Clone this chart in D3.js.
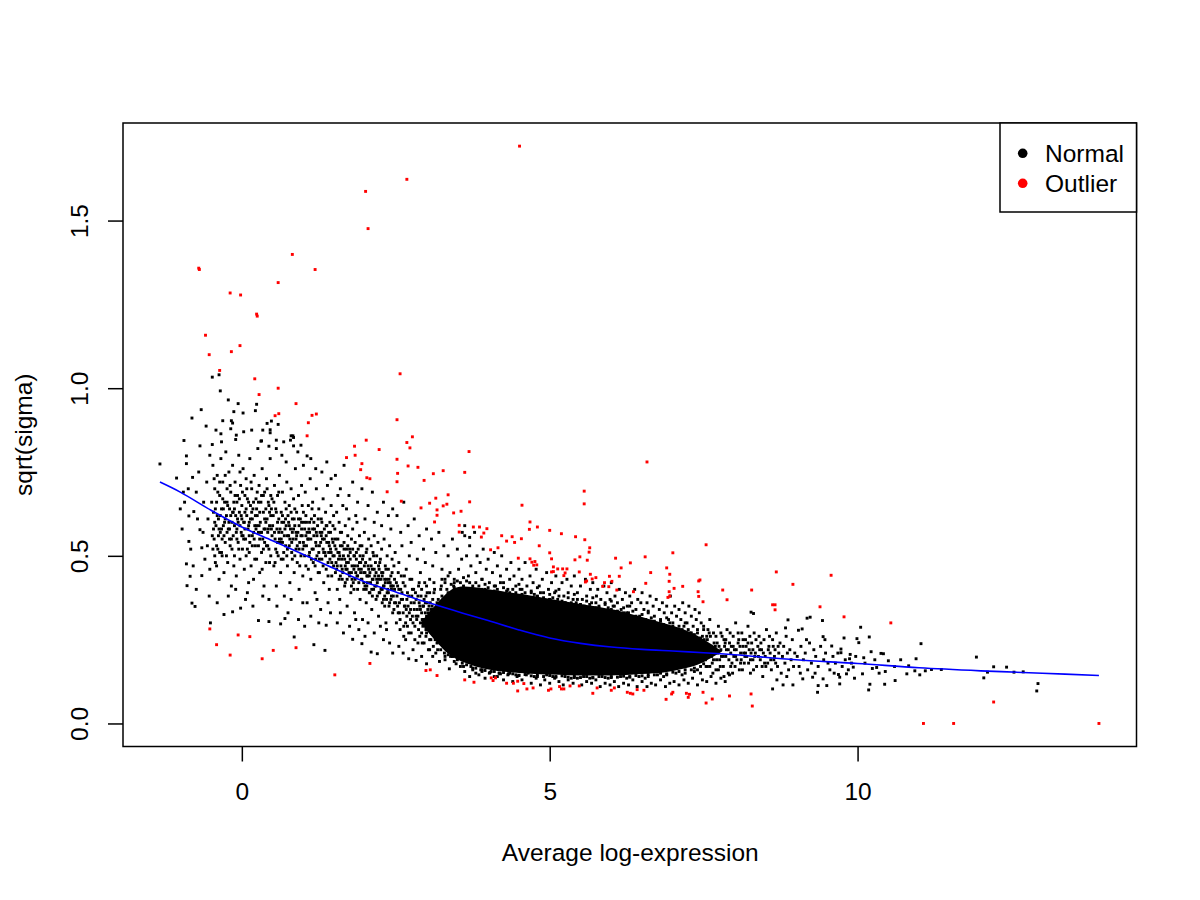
<!DOCTYPE html>
<html><head><meta charset="utf-8">
<script src="https://cdn.jsdelivr.net/npm/d3@7/dist/d3.min.js"></script>
<style>body{margin:0;background:#fff}svg{display:block}</style>
</head><body><svg id="chart" width="1200" height="900"></svg>
<script>
// ---------- data ----------
const xTicks = [0, 5, 10];
const yTicks = [0, 0.5, 1, 1.5];
const xTitle = "Average log-expression";
const yTitle = "sqrt(sigma)";
const legendLabels = ["Normal", "Outlier"];
const legendColors = ["#000000", "#FF0000"];

// overplotted (solid black) core of the cloud: x, lower edge, upper edge
const denseX  = [2.9, 3.15, 3.35, 3.5, 3.75, 4.0, 4.3, 4.7, 5.0, 5.3, 5.65, 6.0, 6.3, 6.7, 7.0, 7.3, 7.5, 7.8];
const denseLo = [.30, .245, .205, .19, .172, .16, .153, .148, .146, .144, .143, .143, .145, .149, .156, .168, .182, .215];
const denseHi = [.30, .355, .395, .41, .408, .40, .392, .382, .372, .362, .352, .342, .327, .307, .292, .272, .252, .215];

// fitted trend (blue line)
const trendX = [-1.33, -1, -0.5, 0, 0.5, 1, 1.5, 2, 2.5, 3, 3.59, 4, 4.5, 5, 5.5, 6, 6.5, 7, 7.5, 8, 9, 10, 11, 12, 13, 13.92];
const trendY = [.72, .69, .636, .586, .545, .504, .462, .422, .392, .362, .329, .307, .279, .255, .239, .228, .221, .216, .211, .205, .19, .179, .166, .157, .15, .143];

const normalPoints = [
[-1.33,.774],[-1.06,.732],[-0.94,.844],[-0.9,.798],[-0.9,.775],[-0.8,.734],[-0.81,.911],[-0.66,.936],[-0.68,.828],[-0.58,.887],[-0.9,.476],[-0.84,.439],[-0.89,.411],[-0.81,.359],[-0.76,.349],[-0.86,.619],[-0.86,.543],[-0.78,.632],[-0.68,.578],[-0.65,.524],[-0.65,.441],[-0.51,.300],[-0.97,.58],[-0.93,.66],[-0.87,.70],[-0.83,.52],[-0.79,.47],[-0.74,.69],[-0.72,.61],[-0.7,.75],[-0.62,.66],[-0.6,.49],[-0.57,.72],[-0.55,.61],[-0.53,.38],[-0.52,.80],[-0.74,.40],[-0.63,.57],[-0.56,.53],[-1.0,.64],[-0.95,.69],[-0.52,.46],
[-0.48,1.033],[-0.37,1.04],[-0.35,.992],[-0.22,.965],[-0.06,.954],[0.24,.952],[-0.13,.93],[0.02,.926],[0.22,.933],[-0.31,.903],[-0.17,.903],[-0.15,.896],[-0.42,.875],[-0.34,.864],[-0.18,.879],[0.03,.87],[0.16,.875],[0.34,.875],[0.41,.895],[0.48,.902],[0.46,.876],[0.46,.867],[-0.1,.847],[-0.09,.86],[0.32,.843],[-0.48,.832],[-0.33,.84],[0.31,.842],[0.44,.827],
[-0.47,.77],[-0.46,.63],[-0.45,.55],[-0.44,.70],[-0.43,.48],[-0.42,.59],[-0.41,.66],[-0.4,.74],[-0.39,.52],[-0.38,.61],[-0.37,.43],[-0.36,.68],[-0.35,.57],[-0.34,.79],[-0.33,.64],[-0.32,.50],[-0.31,.72],[-0.30,.59],[-0.29,.45],[-0.28,.66],[-0.27,.54],[-0.26,.81],[-0.25,.62],[-0.24,.70],[-0.23,.48],[-0.22,.58],[-0.21,.75],[-0.2,.64],[-0.19,.53],[-0.18,.69],[-0.17,.41],[-0.16,.60],[-0.15,.77],[-0.14,.56],[-0.13,.66],[-0.12,.50],[-0.11,.72],[-0.1,.62],[-0.09,.44],[-0.08,.58],[-0.07,.68],[-0.06,.54],[-0.05,.80],[-0.04,.63],[-0.03,.49],[-0.02,.71],[-0.01,.57],[0.0,.65],[0.01,.52],[0.02,.76],[0.03,.60],[0.04,.46],[0.05,.68],[0.06,.55],[0.07,.73],[0.08,.62],[0.09,.39],[0.1,.58],[0.11,.66],[0.12,.51],[0.13,.79],[0.14,.61],[0.15,.47],[0.16,.70],[0.17,.56],[0.18,.64],[0.19,.43],[0.2,.74],[0.21,.59],[0.22,.53],[0.23,.67],[0.24,.49],[0.25,.62],[0.26,.82],[0.27,.57],[0.28,.71],[0.29,.45],[0.3,.60],[0.31,.66],[0.32,.51],[0.33,.76],[0.34,.55],[0.35,.63],[0.36,.41],[0.37,.69],[0.38,.58],[0.39,.48],[0.4,.73],[0.41,.61],[0.42,.53],[0.43,.66],[0.44,.37],[0.45,.59],[0.46,.79],[0.47,.50],[0.48,.64],[0.49,.56],
[-0.44,.60],[-0.38,.56],[-0.33,.58],[-0.27,.61],[-0.2,.55],[-0.14,.63],[-0.08,.66],[-0.03,.59],[0.02,.56],[0.07,.64],[0.12,.60],[0.17,.53],[0.22,.62],[0.27,.66],[0.32,.57],[0.37,.61],[0.42,.57],[0.47,.68],[-0.36,.51],[-0.24,.57],[-0.12,.59],[0.0,.61],[0.09,.52],[0.19,.57],[0.29,.55],[0.39,.64],[0.44,.52],[-0.46,.58],[-0.41,.53],[-0.3,.64],[-0.18,.62],[-0.06,.60],[0.05,.58],[0.14,.65],[0.24,.59],[0.35,.52],[0.45,.63],
[-0.49,.66],[-0.47,.52],[-0.45,.73],[-0.43,.64],[-0.41,.47],[-0.39,.69],[-0.37,.58],[-0.35,.62],[-0.33,.51],[-0.31,.67],[-0.29,.56],[-0.27,.74],[-0.25,.50],[-0.23,.65],[-0.21,.60],[-0.19,.71],[-0.17,.55],[-0.15,.63],[-0.13,.47],[-0.11,.68],[-0.09,.57],[-0.07,.61],[-0.05,.52],[-0.03,.75],[-0.01,.62],[0.01,.69],[0.03,.55],[0.05,.63],[0.07,.50],[0.09,.67],[0.11,.59],[0.13,.54],[0.15,.72],[0.17,.61],[0.19,.66],[0.21,.49],[0.23,.58],[0.25,.69],[0.27,.53],[0.29,.63],[0.31,.57],[0.33,.46],[0.35,.68],[0.37,.54],[0.39,.60],[0.41,.70],[0.43,.58],[0.45,.48],[0.47,.62],[0.49,.67],
[-0.48,.56],[-0.44,.50],[-0.4,.62],[-0.36,.72],[-0.32,.55],[-0.28,.60],[-0.24,.66],[-0.2,.58],[-0.16,.52],[-0.12,.64],[-0.08,.55],[-0.04,.67],[0.0,.56],[0.04,.60],[0.08,.70],[0.12,.56],[0.16,.63],[0.2,.55],[0.24,.64],[0.28,.59],[0.32,.68],[0.36,.58],[0.4,.53],[0.44,.65],[0.48,.58],
[-0.29,.325],[-0.15,.333],[-0.02,.344],[0.27,.307],[0.44,.304],[-0.4,.36],[-0.22,.38],[0.06,.37],[0.18,.35],[0.34,.38],[-0.1,.40],[0.11,.42],
[0.56,.845],[0.83,.858],[0.84,.828],[1.06,.798],[0.59,.892],[0.8,.858],[0.84,.853],[0.79,.845],[0.56,.82],[0.65,.80],[0.72,.78],[0.91,.81],[1.0,.77],[1.12,.79],[1.2,.76],[1.3,.75],[1.38,.78],[1.45,.73],[0.68,.84],[0.96,.83],
[0.51,.62],[0.52,.47],[0.53,.71],[0.54,.55],[0.55,.64],[0.56,.41],[0.57,.58],[0.58,.68],[0.59,.50],[0.6,.61],[0.61,.74],[0.62,.54],[0.63,.45],[0.64,.63],[0.65,.57],[0.66,.69],[0.67,.49],[0.68,.60],[0.69,.38],[0.7,.66],[0.71,.53],[0.72,.59],[0.73,.72],[0.74,.47],[0.75,.62],[0.76,.56],[0.77,.65],[0.78,.42],[0.79,.58],[0.8,.70],[0.81,.51],[0.82,.61],[0.83,.55],[0.84,.67],[0.85,.45],[0.86,.59],[0.87,.76],[0.88,.52],[0.89,.63],[0.9,.48],[0.91,.57],[0.92,.68],[0.93,.40],[0.94,.54],[0.95,.61],[0.96,.50],[0.97,.71],[0.98,.56],[0.99,.44],[1.0,.63],[1.01,.53],[1.02,.58],[1.03,.69],[1.04,.47],[1.05,.60],[1.06,.36],[1.07,.55],[1.08,.65],[1.09,.50],[1.1,.57],[1.11,.73],[1.12,.43],[1.13,.61],[1.14,.52],[1.15,.66],[1.16,.48],[1.17,.56],[1.18,.62],[1.19,.39],[1.2,.54],[1.21,.70],[1.22,.50],[1.23,.59],[1.24,.45],[1.25,.64],[1.26,.53],[1.27,.57],[1.28,.34],[1.29,.61],[1.3,.49],[1.31,.55],[1.32,.67],[1.33,.42],[1.34,.58],[1.35,.51],[1.36,.63],[1.37,.46],[1.38,.54],[1.39,.71],[1.4,.48],[1.41,.57],[1.42,.40],[1.43,.60],[1.44,.52],[1.45,.65],[1.46,.44],[1.47,.55],[1.48,.50],[1.49,.62],
[0.55,.52],[0.6,.57],[0.66,.54],[0.71,.61],[0.77,.53],[0.82,.57],[0.88,.55],[0.93,.59],[0.99,.52],[1.04,.56],[1.1,.51],[1.15,.58],[1.21,.53],[1.26,.49],[1.32,.52],[1.37,.56],[1.43,.49],[1.48,.54],[0.58,.60],[0.64,.49],[0.74,.56],[0.86,.50],[0.97,.60],[1.08,.55],[1.19,.47],[1.3,.57],[1.41,.51],
[0.5,.59],[0.52,.66],[0.54,.48],[0.56,.63],[0.58,.54],[0.6,.69],[0.62,.58],[0.64,.55],[0.66,.62],[0.68,.51],[0.7,.58],[0.72,.64],[0.74,.52],[0.76,.60],[0.78,.55],[0.8,.63],[0.82,.49],[0.84,.58],[0.86,.64],[0.88,.57],[0.9,.53],[0.92,.61],[0.94,.47],[0.96,.56],[0.98,.65],[1.0,.54],[1.02,.50],[1.04,.62],[1.06,.57],[1.08,.46],[1.1,.60],[1.12,.55],[1.14,.64],[1.16,.52],[1.18,.58],[1.2,.49],[1.22,.56],[1.24,.61],[1.26,.45],[1.28,.54],[1.3,.60],[1.32,.47],[1.34,.55],[1.36,.50],[1.38,.59],[1.4,.44],[1.42,.53],[1.44,.57],[1.46,.48],[1.48,.59],
[0.53,.57],[0.57,.51],[0.61,.55],[0.65,.60],[0.69,.56],[0.73,.50],[0.77,.59],[0.81,.54],[0.85,.61],[0.89,.56],[0.93,.52],[0.97,.58],[1.01,.60],[1.05,.53],[1.09,.58],[1.13,.49],[1.17,.60],[1.21,.57],[1.25,.51],[1.29,.56],[1.33,.51],[1.37,.59],[1.41,.54],[1.45,.51],[1.49,.47],
[0.63,.297],[0.7,.313],[0.85,.258],[1.17,.235],[1.35,.218],[1.37,.293],[0.75,.33],[0.92,.31],[1.02,.29],[1.12,.32],[1.25,.30],[1.44,.33],[0.57,.35],[0.8,.37],[0.99,.36],[1.22,.37],[1.4,.36],
[1.52,.74],[1.6,.70],[1.66,.77],[1.74,.68],[1.8,.72],[1.88,.66],[1.95,.70],[2.05,.65],[2.12,.69],[2.2,.63],[2.3,.66],[2.38,.62],[2.45,.64],[1.56,.68],[1.7,.64],[1.85,.62],[2.0,.61],[2.15,.60],[2.27,.59],[2.42,.58],
[1.51,.58],[1.52,.45],[1.53,.52],[1.54,.63],[1.55,.40],[1.56,.55],[1.57,.49],[1.58,.60],[1.59,.37],[1.6,.53],[1.61,.47],[1.62,.57],[1.63,.43],[1.64,.65],[1.65,.50],[1.66,.54],[1.67,.41],[1.68,.59],[1.69,.46],[1.7,.52],[1.71,.35],[1.72,.56],[1.73,.48],[1.74,.61],[1.75,.44],[1.76,.51],[1.77,.39],[1.78,.55],[1.79,.47],[1.8,.58],[1.81,.42],[1.82,.50],[1.83,.33],[1.84,.54],[1.85,.45],[1.86,.49],[1.87,.60],[1.88,.40],[1.89,.52],[1.9,.46],[1.91,.56],[1.92,.37],[1.93,.48],[1.94,.43],[1.95,.53],[1.96,.31],[1.97,.50],[1.98,.45],[1.99,.57],[2.0,.41],[2.01,.48],[2.02,.36],[2.03,.52],[2.04,.44],[2.05,.47],[2.06,.55],[2.07,.39],[2.08,.49],[2.09,.42],[2.1,.53],[2.11,.34],[2.12,.46],[2.13,.51],[2.14,.40],[2.15,.56],[2.16,.44],[2.17,.48],[2.18,.37],[2.19,.50],[2.2,.42],[2.21,.54],[2.22,.32],[2.23,.46],[2.24,.39],[2.25,.49],[2.26,.43],[2.27,.52],[2.28,.36],[2.29,.45],[2.3,.41],[2.31,.55],[2.32,.38],[2.33,.47],[2.34,.30],[2.35,.43],[2.36,.50],[2.37,.40],[2.38,.46],[2.39,.35],[2.4,.53],[2.41,.42],[2.42,.44],[2.43,.38],[2.44,.49],[2.45,.33],[2.46,.41],[2.47,.47],[2.48,.36],[2.49,.51],
[1.53,.48],[1.58,.51],[1.63,.53],[1.68,.47],[1.73,.50],[1.78,.45],[1.83,.47],[1.88,.44],[1.93,.45],[1.98,.42],[2.03,.44],[2.08,.45],[2.13,.43],[2.18,.41],[2.23,.43],[2.28,.40],[2.33,.42],[2.38,.39],[2.43,.41],[2.48,.43],[1.6,.44],[1.71,.43],[1.82,.40],[1.92,.50],[2.02,.40],[2.12,.38],[2.22,.47],[2.32,.35],[2.42,.37],
[1.5,.50],[1.52,.55],[1.54,.46],[1.56,.51],[1.58,.43],[1.6,.57],[1.62,.49],[1.64,.45],[1.66,.52],[1.68,.42],[1.7,.48],[1.72,.53],[1.74,.45],[1.76,.49],[1.78,.41],[1.8,.52],[1.82,.46],[1.84,.43],[1.86,.51],[1.88,.47],[1.9,.42],[1.92,.53],[1.94,.46],[1.96,.49],[1.98,.40],[2.0,.45],[2.02,.51],[2.04,.42],[2.06,.46],[2.08,.39],[2.1,.47],[2.12,.43],[2.14,.50],[2.16,.41],[2.18,.45],[2.2,.38],[2.22,.44],[2.24,.48],[2.26,.40],[2.28,.44],[2.3,.37],[2.32,.43],[2.34,.46],[2.36,.39],[2.38,.42],[2.4,.36],[2.42,.41],[2.44,.45],[2.46,.38],[2.48,.40],
[1.51,.53],[1.55,.47],[1.59,.50],[1.63,.46],[1.67,.49],[1.71,.46],[1.75,.52],[1.79,.43],[1.83,.50],[1.87,.44],[1.91,.48],[1.95,.43],[1.99,.47],[2.03,.41],[2.07,.44],[2.11,.40],[2.15,.46],[2.19,.43],[2.23,.39],[2.27,.45],[2.31,.41],[2.35,.37],[2.39,.43],[2.43,.40],[2.47,.34],
[1.8,.251],[1.95,.238],[2.1,.213],[2.2,.208],[2.45,.21],[1.55,.30],[1.65,.27],[1.75,.29],[1.9,.28],[2.0,.26],[2.15,.27],[2.3,.25],[2.4,.24],[1.6,.33],[1.85,.31],[2.05,.30],[2.25,.29],[2.35,.28],
[2.52,.62],[2.58,.57],[2.63,.66],[2.7,.59],[2.75,.54],[2.8,.61],[2.88,.56],[2.95,.52],[3.0,.58],[3.08,.55],[3.15,.51],[3.2,.57],[3.28,.53],[3.35,.50],[3.42,.55],[3.5,.52],[3.57,.49],[2.6,.53],[2.72,.50],[2.85,.49],[2.98,.48],[3.1,.47],[3.25,.46],[3.38,.45],[3.52,.46],[2.55,.48],[2.67,.46],[2.9,.45],[3.05,.43],[3.3,.43],[3.45,.42],
[2.51,.42],[2.53,.35],[2.55,.40],[2.57,.31],[2.59,.44],[2.61,.37],[2.63,.29],[2.65,.41],[2.67,.34],[2.69,.39],[2.71,.27],[2.73,.43],[2.75,.36],[2.77,.32],[2.79,.40],[2.81,.29],[2.83,.37],[2.85,.34],[2.87,.41],[2.89,.26],[2.91,.38],[2.93,.31],[2.95,.35],[2.97,.42],[2.99,.28],[3.01,.36],[3.03,.33],[3.05,.39],[3.07,.25],[3.09,.35],[3.11,.30],[3.13,.40],[3.15,.33],[3.17,.27],[3.19,.37],[3.21,.32],[3.23,.24],[3.25,.38],[3.27,.30],[3.29,.35],[3.31,.26],[3.33,.33],[3.35,.39],[3.37,.29],[3.39,.34],[3.41,.23],[3.43,.36],[3.45,.31],[3.47,.27],[3.49,.37],[3.51,.32],[3.53,.25],[3.55,.35],[3.57,.29],[3.59,.33],
[2.52,.38],[2.56,.36],[2.6,.39],[2.64,.35],[2.68,.37],[2.72,.33],[2.76,.38],[2.8,.34],[2.84,.31],[2.88,.36],[2.92,.33],[2.96,.37],[3.0,.32],[3.04,.35],[2.54,.33],[2.62,.33],[2.7,.35],[2.78,.30],[2.86,.32],[2.94,.29],[3.02,.30],[2.58,.40],[2.66,.30],[2.74,.31],[2.82,.39],[2.9,.34],[2.98,.33],
[2.5,.36],[2.53,.41],[2.56,.33],[2.59,.37],[2.62,.42],[2.65,.35],[2.68,.32],[2.71,.38],[2.74,.34],[2.77,.40],[2.8,.36],[2.83,.32],[2.86,.38],[2.89,.35],[2.92,.40],[2.95,.31],[2.98,.36],[3.01,.39],[3.04,.30],[3.07,.34],[3.1,.37],[3.13,.29],[3.16,.35],[3.19,.31],[3.22,.36],[3.25,.28],[3.28,.33],
[2.51,.30],[2.57,.28],[2.63,.26],[2.69,.29],[2.75,.27],[2.81,.25],[2.87,.28],[2.93,.24],[2.99,.26],[3.05,.25],[3.11,.23],[3.17,.24],[3.23,.22],[3.29,.23],[2.54,.45],[2.64,.44],[2.76,.43],[2.88,.42],[3.0,.41],[3.12,.42],[3.24,.41],
[2.9,.30],[2.92,.27],[2.94,.35],[2.96,.24],[2.97,.31],[2.99,.38],[3.0,.27],[3.02,.34],[3.03,.22],[3.05,.29],[3.06,.36],[3.08,.31],[3.09,.27],[3.11,.34],[3.12,.39],[3.14,.25],[3.15,.30],[3.17,.36],[3.18,.22],[3.2,.28],[3.21,.34],[3.23,.40],[3.24,.26],[3.26,.31],[3.27,.37],[3.29,.21],[3.3,.28],[3.32,.35],[3.33,.40],[3.35,.24],[3.36,.30],[3.38,.37],[3.39,.20],[3.41,.27],[3.42,.33],[3.44,.41],[3.45,.23],[3.47,.29],[3.48,.36],[3.5,.21],
[2.71,.193],[2.83,.188],[3.0,.178],[3.21,.185],[3.37,.163],[3.48,.178],[2.55,.23],[2.62,.21],[2.78,.22],[2.92,.20],[3.1,.20],[3.3,.19],[3.55,.17],[2.66,.25],[2.86,.24],[3.05,.22],[3.15,.21],[3.42,.20],
[3.58,.57],[3.62,.59],[3.7,.555],[3.62,.56],[3.65,.50],[3.68,.44],[3.7,.53],[3.72,.47],[3.75,.41],[3.78,.57],[3.8,.45],[3.82,.50],[3.85,.39],[3.87,.48],[3.9,.43],[3.92,.52],[3.95,.40],[3.97,.46],[4.0,.49],[4.02,.42],[4.05,.38],[4.07,.45],[4.1,.51],[4.12,.41],[4.15,.47],[4.17,.39],[4.2,.44],[4.22,.50],[4.25,.42],[4.27,.37],[4.3,.46],[4.32,.40],[4.35,.43],[4.37,.48],[4.4,.38],[4.42,.44],[4.45,.41],[4.47,.36],[4.5,.46],
[4.52,.40],[4.55,.43],[4.58,.37],[4.6,.48],[4.63,.41],[4.65,.36],[4.68,.44],[4.7,.39],[4.73,.42],[4.75,.35],[4.78,.46],[4.8,.38],[4.83,.41],[4.85,.36],[4.88,.43],[4.9,.39],[4.93,.34],[4.95,.45],[4.98,.40],[5.0,.37],[5.03,.42],[5.05,.35],[5.08,.39],[5.1,.44],[5.13,.37],[5.15,.40],[5.18,.34],[5.2,.42],[5.23,.38],[5.25,.36],[5.28,.43],[5.3,.39],[5.33,.35],[5.35,.41],[5.38,.37],[5.4,.44],[5.43,.36],[5.45,.39],[5.48,.34],
[5.5,.41],[5.53,.37],[5.56,.35],[5.58,.43],[5.6,.38],[5.63,.33],[5.66,.40],[5.68,.36],[5.7,.42],[5.73,.34],[5.76,.38],[5.78,.40],[5.8,.35],[5.83,.37],[5.86,.32],[5.88,.41],[5.9,.36],[5.93,.39],[5.96,.33],[5.98,.37],[6.0,.42],[6.03,.35],[6.06,.38],[6.08,.32],[6.1,.36],[6.13,.40],[6.16,.34],[6.18,.37],[6.2,.31],[6.23,.39],[6.26,.35],[6.28,.33],[6.3,.38],[6.33,.36],[6.36,.31],[6.38,.40],[6.4,.34],[6.43,.37],[6.46,.32],[6.48,.36],
[6.5,.39],[6.53,.34],[6.56,.31],[6.58,.36],[6.6,.33],[6.63,.38],[6.66,.30],[6.68,.35],[6.7,.32],[6.73,.37],[6.76,.29],[6.78,.34],[6.8,.31],[6.83,.36],[6.86,.33],[6.88,.29],[6.9,.35],[6.93,.31],[6.96,.38],[6.98,.33],[7.0,.30],[7.03,.35],[7.06,.32],[7.08,.28],[7.1,.34],[7.13,.31],[7.16,.36],[7.18,.29],[7.2,.33],[7.23,.30],[7.26,.35],[7.28,.27],[7.3,.32],[7.33,.29],[7.36,.34],[7.38,.31],[7.4,.28],[7.43,.33],[7.46,.30],[7.48,.26],[8.27,.332],[8.31,.328],
[3.25,.43],[3.35,.44],[3.45,.43],[3.55,.42],[3.65,.425],[3.8,.42],[3.95,.415],[4.1,.41],[4.25,.405],[4.4,.40],[4.55,.40],[4.7,.395],[4.85,.39],[5.0,.385],[5.15,.38],[5.3,.375],[5.45,.37],[5.6,.365],[5.75,.36],[5.9,.355],[6.05,.35],[6.2,.345],[6.35,.335],[6.5,.325],[6.65,.315],[6.8,.305],[6.95,.30],[7.1,.29],[7.25,.28],[7.4,.27],[7.55,.26],
[3.3,.42],[3.6,.435],[3.9,.43],[4.2,.42],[4.5,.415],[4.8,.405],[5.1,.395],[5.4,.385],[5.7,.375],[6.0,.365],[6.3,.35],[6.6,.335],[6.9,.315],[7.2,.30],[7.5,.28],
[3.4,.415],[3.5,.425],[3.6,.41],[3.7,.42],[3.85,.41],[4.0,.405],[4.15,.40],[4.3,.395],[4.45,.39],[4.6,.39],[4.75,.385],[4.9,.375],[5.05,.375],[5.2,.365],[5.35,.36],[5.5,.355],[5.65,.355],[5.8,.345],[5.95,.345],[6.1,.335],[6.25,.33],[6.4,.32],[6.55,.31],[6.7,.305],[6.85,.295],[7.0,.29],[7.15,.28],[7.3,.27],[7.45,.255],
[3.45,.405],[3.65,.4],[3.9,.40],[4.1,.395],[4.35,.39],[4.55,.385],[4.8,.378],[5.0,.37],[5.25,.36],[5.5,.35],[5.75,.345],[6.0,.34],[6.2,.33],[6.45,.315],[6.65,.305],[6.9,.29],[7.1,.28],[7.35,.265],
[3.35,.205],[3.5,.19],[3.65,.175],[3.8,.165],[3.95,.158],[4.1,.155],[4.25,.152],[4.4,.148],[4.6,.146],[4.8,.145],[5.0,.143],[5.2,.142],[5.4,.141],[5.6,.14],[5.8,.14],[6.0,.14],[6.2,.141],[6.4,.143],[6.6,.146],[6.8,.15],[7.0,.153],[7.2,.16],[7.35,.165],[7.5,.178],
[3.42,.2],[3.58,.18],[3.72,.17],[3.88,.16],[4.03,.152],[4.18,.15],[4.33,.148],[4.5,.144],[4.7,.142],[4.9,.14],[5.1,.14],[5.3,.138],[5.5,.137],[5.7,.137],[5.9,.137],[6.1,.138],[6.3,.14],[6.5,.142],[6.7,.145],[6.9,.148],[7.1,.155],[7.3,.16],[7.45,.17],
[3.3,.20],[3.45,.185],[3.6,.17],[3.75,.165],[3.9,.155],[4.2,.148],[4.5,.143],[4.8,.14],[5.1,.138],[5.4,.137],[5.7,.136],[6.0,.137],[6.3,.138],[6.6,.14],[6.9,.145],[7.2,.15],[7.4,.16],[7.6,.17],
[3.62,.155],[3.7,.14],[3.8,.15],[3.9,.16],[3.95,.135],[4.02,.15],[4.1,.14],[4.18,.15],[4.25,.13],[4.32,.145],[4.4,.125],[4.47,.14],[4.55,.13],[4.62,.145],[4.7,.12],[4.78,.135],[4.85,.115],[4.92,.13],[5.0,.12],[5.08,.135],[5.15,.125],[5.22,.115],[5.3,.13],[5.38,.12],[5.45,.135],[5.52,.115],[5.6,.125],[5.68,.12],[5.75,.13],[5.82,.11],[5.9,.12],[5.98,.115],[6.05,.125],[6.12,.11],[6.2,.12],[6.28,.115],[6.35,.13],[6.42,.11],[6.5,.125],[6.58,.11],[6.65,.12],[6.72,.115],[6.8,.13],[6.88,.11],[6.95,.12],[7.02,.125],[7.1,.115],[7.18,.13],[7.25,.12],[7.32,.135],[7.4,.115],[7.48,.13],[7.55,.125],[7.62,.14],[7.7,.12],[7.78,.135],[7.85,.125],[7.92,.145],
[3.75,.16],[4.05,.155],[4.35,.15],[4.65,.15],[4.95,.145],[5.25,.14],[5.55,.14],[5.85,.14],[6.15,.14],[6.45,.14],[6.75,.145],[7.05,.15],[7.35,.155],[3.85,.145],[4.15,.14],[4.45,.145],[4.75,.14],[5.05,.14],[5.35,.135],[5.65,.135],[5.95,.135],[6.25,.135],[6.55,.135],[6.85,.14],[7.15,.145],[7.45,.15],
[7.5,.29],[7.52,.22],[7.54,.17],[7.56,.25],[7.58,.20],[7.6,.31],[7.62,.23],[7.64,.18],[7.66,.27],[7.68,.21],[7.7,.16],[7.72,.24],[7.74,.29],[7.76,.19],[7.78,.22],[7.8,.26],[7.82,.17],[7.84,.23],[7.86,.20],[7.88,.28],[7.9,.15],[7.92,.24],[7.94,.21],[7.96,.18],[7.98,.26],[8.0,.22],[8.02,.30],[8.04,.19],[8.06,.24],[8.08,.16],[8.1,.21],[8.12,.27],[8.14,.23],[8.16,.18],[8.18,.25],[8.2,.20],[8.22,.29],[8.24,.22],[8.26,.15],[8.28,.24],[8.3,.19],[8.32,.27],[8.34,.21],[8.36,.17],[8.38,.23],[8.4,.26],[8.42,.19],[8.44,.22],[8.46,.14],[8.48,.25],[8.5,.20],[8.52,.28],[8.54,.18],[8.56,.23],[8.58,.21],[8.6,.16],[8.62,.25],[8.64,.19],[8.66,.22],[8.68,.27],[8.7,.17],[8.72,.21],[8.74,.24],[8.76,.15],[8.78,.20],[8.8,.23],[8.82,.18],[8.84,.26],[8.86,.21],[8.88,.16],[8.9,.22],[8.92,.19],[8.94,.25],[8.96,.17],[8.98,.21],
[7.51,.25],[7.55,.21],[7.59,.27],[7.63,.20],[7.67,.24],[7.71,.19],[7.75,.23],[7.79,.20],[7.83,.25],[7.87,.22],[7.91,.19],[7.95,.23],[7.99,.20],[8.03,.22],[8.07,.25],[8.11,.19],[8.15,.21],[8.19,.23],[8.23,.18],[8.27,.21],[7.53,.19],[7.61,.26],[7.69,.23],[7.77,.17],[7.85,.24],[7.93,.27],[8.01,.17],[8.09,.23],[8.17,.20],[8.25,.26],[8.33,.20],[8.41,.22],[8.49,.18],[8.57,.26],[8.65,.20],
[7.52,.24],[7.57,.28],[7.62,.21],[7.66,.19],[7.7,.26],[7.73,.21],[7.78,.27],[7.82,.20],[7.86,.25],[7.9,.22],[7.94,.17],[7.98,.23],[8.02,.20],[8.06,.27],[8.1,.18],[8.14,.25],[8.18,.21],[8.22,.24],[8.26,.19],[8.3,.22],[8.35,.25],[8.39,.20],[8.43,.24],[8.47,.21],[8.51,.17],[8.55,.22],[8.59,.19],[8.63,.23],[8.67,.18],[8.71,.23],[7.56,.17],[7.65,.15],[7.74,.16],[7.83,.14],[7.97,.15],[8.13,.16],[8.31,.16],[8.45,.17],[8.69,.13],[8.85,.14],
[11.93,.198],[12.21,.169],[12.42,.168],[12.11,.153],[12.05,.136],[12.54,.153],[12.69,.154],[12.93,.119],[12.91,.097],[11.03,.238],[10.95,.193],[11.36,.161],[11.2,.161],[11.1,.157],[11.01,.145],[10.93,.157],[10.8,.148],[10.83,.172],[10.61,.128],[10.5,.187],[10.45,.155],[10.42,.208],[10.38,.209],[10.31,.167],[10.24,.164],[10.22,.214],[10.19,.258],[10.05,.287],[10.1,.196],[10.2,.117],[10.18,.1],[10.44,.117],[10.08,.148],[9.99,.253],[10.02,.241],[9.95,.135],[9.87,.193],[9.88,.206],[9.78,.255],[9.73,.222],[9.73,.211],[9.71,.118],[9.69,.146],[9.43,.307],[9.44,.259],[9.5,.113],[9.35,.093],[9.36,.113],[9.58,.231],[9.23,.317],[9.18,.314],[8.87,.309],[8.83,.285],[9.04,.278],[9.1,.282],[8.95,.115],[8.62,.103],[8.79,.115],[9.11,.133],[9.27,.138],[9.44,.133],[9.71,.138],[9.82,.148],[9.93,.168],
[9.02,.20],[9.05,.17],[9.08,.23],[9.12,.19],[9.15,.21],[9.19,.16],[9.22,.24],[9.25,.18],[9.29,.22],[9.32,.20],[9.36,.17],[9.4,.23],[9.45,.19],[9.48,.21],[9.52,.18],[9.55,.16],[9.6,.20],[9.64,.18],[9.68,.21],[9.75,.17],[9.8,.19],[9.85,.16],[9.9,.18],[9.97,.20],[9.07,.15],[9.17,.25],[9.31,.15],[9.47,.25],[9.62,.15],[10.12,.18],[10.28,.19],[10.35,.15],[10.6,.17],[10.7,.19]
];

const outlierPoints = [
[4.51,1.722],[2.68,1.623],[2.01,1.587],[2.05,1.476],[0.82,1.399],[1.19,1.354],[-0.69,1.354],[-0.7,1.358],[0.59,1.315],[-0.19,1.284],[-0.02,1.278],[0.24,1.221],[0.25,1.215],[-0.59,1.158],[-0.03,1.127],[-0.53,1.1],[-0.17,1.109],[-0.36,1.053],[0.21,1.028],[2.57,1.043],[0.59,1.0],[0.28,.981],[0.88,.954],[0.6,.924],[0.54,.918],[1.14,.919],[1.21,.923],[1.08,.897],[1.06,.858],[2.52,.906],[2.02,.845],[2.68,.838],[2.77,.855],[2.73,.822],[1.83,.827],[2.23,.817],[1.7,.793],[1.84,.8],[1.95,.775],[1.93,.757],[2.03,.733],[2.08,.73],[2.52,.788],[2.53,.746],[2.52,.721],[2.7,.768],[2.86,.764],[2.96,.725],[3.11,.745],[3.27,.754],[3.62,.749],[3.69,.811],[6.58,.78],[2.36,.691],[2.59,.663],[3.05,.657],[3.15,.672],[2.91,.643],[3.17,.637],[3.27,.649],[3.33,.654],[3.35,.682],[3.44,.628],[3.56,.633],[3.17,.621],[3.13,.601],[3.53,.591],[3.53,.571],[3.7,.661],[4.55,.651],[5.56,.693],[5.56,.655],[3.76,.586],[3.86,.586],[3.98,.581],[3.93,.568],[3.89,.556],[4.22,.56],[4.39,.557],[4.3,.544],[4.43,.54],[4.54,.551],[4.68,.601],[4.67,.579],[4.8,.586],[5.0,.576],[5.19,.566],[5.42,.557],[5.57,.548],[5.65,.524],[5.64,.511],[4.16,.524],[4.04,.518],[4.83,.53],[4.49,.493],[5.0,.509],[5.03,.491],[4.68,.491],[4.71,.481],[4.76,.483],[4.79,.473],[4.74,.472],[5.41,.488],[5.61,.487],[5.49,.497],[5.06,.467],[5.13,.461],[5.21,.461],[5.28,.461],[5.25,.449],[5.06,.453],[5.03,.452],[5.23,.441],[5.48,.452],[5.58,.422],[5.66,.445],[5.6,.425],[5.69,.431],[5.75,.435],[5.89,.42],[5.86,.409],[5.97,.439],[6.13,.439],[6.16,.464],[6.07,.493],[6.01,.424],[5.96,.408],[6.09,.398],[6.31,.479],[6.55,.497],[6.64,.45],[6.56,.418],[6.36,.393],[6.9,.464],[7.0,.509],[6.95,.445],[6.94,.424],[7.02,.403],[6.94,.393],[6.95,.38],[6.92,.376],[7.16,.409],[7.54,.533],[7.42,.425],[7.44,.428],[7.41,.393],[7.42,.379],[7.49,.363],[7.81,.398],[7.88,.369],[8.28,.398],[8.68,.452],[8.95,.415],[9.57,.442],[8.62,.354],[8.66,.354],[8.66,.339],[9.39,.348],[9.78,.318],[10.54,.3],[12.21,.064],[11.07,0],[11.56,0],[13.92,0],
[-0.52,.282],[-0.06,.264],[0.13,.259],[-0.41,.235],[-0.19,.204],[0.33,.193],[0.51,.218],[0.88,.226],[1.51,.145],[2.08,.179],[2.99,.158],[3.06,.16],[3.17,.143],[3.62,.13],[3.77,.123],[4.05,.136],[4.08,.128],[4.12,.136],[4.3,.12],[4.41,.12],[4.48,.126],[4.48,.097],[4.58,.119],[4.63,.103],[4.73,.106],[4.98,.099],[5.02,.103],[5.16,.11],[5.19,.103],[5.23,.103],[5.33,.112],[5.48,.112],[5.7,.09],[5.77,.106],[6.0,.099],[6.05,.106],[6.26,.093],[6.31,.09],[6.35,.088],[6.42,.101],[6.53,.099],[6.89,.072],[6.98,.088],[7.0,.093],[7.22,.09],[7.25,.078],[7.27,.087],[7.49,.093],[7.54,.061],[7.64,.073],[7.92,.082],[8.27,.088],[8.29,.052]
];

// ---------- drawing ----------
const W = 1200, H = 900;
const plot = {left: 123, right: 1136.5, top: 123, bottom: 746.5};
const FONT = "'Liberation Sans', Arial, Helvetica, sans-serif";
const FS = 24.5;

const svg = d3.select("#chart");
svg.append("rect").attr("width", W).attr("height", H).attr("fill", "#fff");

const x = d3.scaleLinear().domain([-1.93, 14.53]).range([plot.left, plot.right]);
const y = d3.scaleLinear().domain([-0.0687, 1.791]).range([plot.bottom, plot.top]);

const g = svg.append("g");

// dense (overplotted) core
const denseData = denseX.map((v, i) => ({x: v, lo: denseLo[i], hi: denseHi[i]}));
g.append("path")
  .datum(denseData)
  .attr("fill", "#000")
  .attr("d", d3.area().curve(d3.curveBasis)
    .x(d => x(d.x)).y0(d => y(d.lo)).y1(d => y(d.hi)));

const PS = 2.9;
g.append("g").selectAll("rect").data(normalPoints).join("rect")
  .attr("x", d => x(d[0]) - PS / 2).attr("y", d => y(d[1]) - PS / 2)
  .attr("width", PS).attr("height", PS).attr("fill", legendColors[0]);

g.append("g").selectAll("rect").data(outlierPoints).join("rect")
  .attr("x", d => x(d[0]) - PS / 2).attr("y", d => y(d[1]) - PS / 2)
  .attr("width", PS).attr("height", PS).attr("fill", legendColors[1]);

// trend line
const trendData = trendX.map((v, i) => [v, trendY[i]]);
g.append("path").datum(trendData)
  .attr("fill", "none").attr("stroke", "#0000FF").attr("stroke-width", 1.6)
  .attr("d", d3.line().curve(d3.curveCatmullRom).x(d => x(d[0])).y(d => y(d[1])));

// box
svg.append("rect")
  .attr("x", plot.left).attr("y", plot.top)
  .attr("width", plot.right - plot.left).attr("height", plot.bottom - plot.top)
  .attr("fill", "none").attr("stroke", "#000").attr("stroke-width", 1.5);

// x axis
const xAxis = svg.append("g").attr("transform", `translate(0,${plot.bottom})`)
  .call(d3.axisBottom(x).tickValues(xTicks).tickSize(15).tickPadding(21).tickFormat(d3.format("d")));
xAxis.select(".domain").remove();
xAxis.selectAll("line").attr("stroke", "#000").attr("stroke-width", 1.5);
xAxis.selectAll("text").attr("font-family", FONT).attr("font-size", FS).attr("fill", "#000");

// y axis
const yAxis = svg.append("g").attr("transform", `translate(${plot.left},0)`)
  .call(d3.axisLeft(y).tickValues(yTicks).tickSize(15).tickFormat(d3.format(".1f")));
yAxis.select(".domain").remove();
yAxis.selectAll("line").attr("stroke", "#000").attr("stroke-width", 1.5);
yAxis.selectAll("text")
  .attr("x", null).attr("dy", null)
  .attr("transform", "translate(-35,0) rotate(-90)")
  .attr("text-anchor", "middle")
  .attr("font-family", FONT).attr("font-size", FS).attr("fill", "#000");

// titles
svg.append("text").attr("x", (plot.left + plot.right) / 2 + 0.5).attr("y", 861)
  .attr("text-anchor", "middle").attr("font-family", FONT).attr("font-size", FS).text(xTitle);
svg.append("text").attr("transform", `translate(32,${(plot.top + plot.bottom) / 2}) rotate(-90)`)
  .attr("text-anchor", "middle").attr("font-family", FONT).attr("font-size", FS).text(yTitle);

// legend
const lg = svg.append("g");
lg.append("rect").attr("x", 1000).attr("y", plot.top).attr("width", plot.right - 1000).attr("height", 89)
  .attr("fill", "#fff").attr("stroke", "#000").attr("stroke-width", 1.5);
legendLabels.forEach((lab, i) => {
  lg.append("circle").attr("cx", 1022.7).attr("cy", 153.3 + i * 30).attr("r", 4.8).attr("fill", legendColors[i]);
  lg.append("text").attr("x", 1045).attr("y", 161.5 + i * 30)
    .attr("font-family", FONT).attr("font-size", FS).attr("fill", "#000").text(lab);
});
</script>
</body></html>
